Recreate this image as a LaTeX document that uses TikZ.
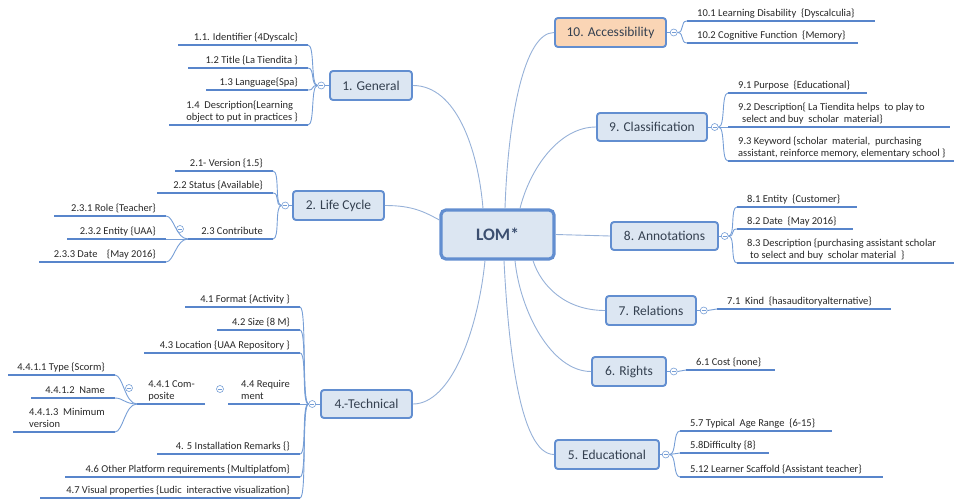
\documentclass[tikz,border=0pt]{standalone}
\usepackage{fontspec}
\setmainfont{Carlito}
\usetikzlibrary{positioning}

\definecolor{boxfill}{RGB}{220,230,242}
\definecolor{boxdraw}{RGB}{98,142,208}
\definecolor{accfill}{RGB}{250,213,181}
\definecolor{boxtext}{RGB}{52,64,80}
\definecolor{lomtext}{RGB}{60,79,112}
\definecolor{trunkcol}{RGB}{150,177,216}
\definecolor{ulinecol}{RGB}{88,133,203}
\definecolor{brkcol}{RGB}{118,158,214}
\definecolor{leaftext}{RGB}{40,40,40}

\begin{document}
\begin{tikzpicture}[x=1pt, y=-1pt,
    main/.style = {draw=boxdraw, fill=boxfill, line width=1.9pt, rounded corners=3pt, text=boxtext, font=\fontsize{13.5}{15}\selectfont, minimum height=29pt, inner sep=0pt},
    hub/.style = {main, line width=3.2pt, rounded corners=5pt, text=lomtext, font=\bfseries\fontsize{17.5}{20}\selectfont},
    knob/.style = {circle, draw=brkcol, fill=white, line width=0.6pt, minimum size=7pt, inner sep=0pt,
        path picture={\draw[brkcol, line width=0.6pt] ([xshift=-2pt]path picture bounding box.center) -- ([xshift=2pt]path picture bounding box.center);}},
    leaf/.style = {font=\fontsize{10.5}{12}\selectfont, text=leaftext, inner xsep=10pt, inner ysep=1pt, execute at end node=\strut},
    lleaf/.style = {leaf, anchor=south east, align=right},
    rleaf/.style = {leaf, anchor=south west, align=left},
    uline/.style = {draw=ulinecol, line width=2.3pt},
    brk/.style = {draw=brkcol, line width=0.9pt},
    trunk/.style = {draw=trunkcol, line width=0.9pt}]
    \useasboundingbox (0,0) rectangle (954,500);

    % centre and main topics
    \node[hub, minimum width=113pt, minimum height=49pt] (lom) at (497.5,234.5) {LOM*};
    \node[main, minimum width=82pt] (gen) at (371,85.5) {1. General};
    \node[main, minimum width=91pt] (life) at (338.5,205.5) {2. Life Cycle};
    \node[main, minimum width=91pt, minimum height=28pt] (tech) at (366.5,404) {4.-Technical};
    \node[main, fill=accfill, minimum width=111pt] (acc) at (610.5,32.5) {10. Accessibility};
    \node[main, minimum width=110pt, minimum height=28pt] (cls) at (652,127) {9. Classification};
    \node[main, minimum width=107pt, minimum height=28pt] (ann) at (664.5,236) {8. Annotations};
    \node[main, minimum width=90pt] (rel) at (651,310.5) {7. Relations};
    \node[main, minimum width=74pt] (rig) at (629,371.5) {6. Rights};
    \node[main, minimum width=104pt] (edu) at (607,454.5) {5. Educational};

    \draw[trunk] (gen.east) .. controls +(43,0) and +(-5,-60) .. ([xshift=-14.5pt]lom.north);
    \draw[trunk] (acc.west) .. controls +(-30,0) and +(3,-90) .. ([xshift=7.5pt]lom.north);
    \draw[trunk] (cls.west) .. controls +(-37,0) and +(10,-40) .. ([xshift=22.5pt]lom.north);
    \draw[trunk] (life.east) .. controls +(28,0) and +(-15,-8) .. ([yshift=14.5pt]lom.west);
    \draw[trunk] (lom.east) -- (ann.west);
    \draw[trunk] (tech.east) .. controls +(38,0) and +(-7,70) .. ([xshift=-12.5pt]lom.south);
    \draw[trunk] (edu.west) .. controls +(-35,0) and +(4,80) .. ([xshift=6.5pt]lom.south);
    \draw[trunk] (rig.west) .. controls +(-40,0) and +(5,50) .. ([xshift=17.5pt]lom.south);
    \draw[trunk] (rel.west) .. controls +(-40,0) and +(8,25) .. ([xshift=35.5pt]lom.south);

    % collapse knobs
    \node[knob, left=4pt of gen] (genk) {};
    \node[knob, left=3pt of life] (lifek) {};
    \node[knob, left=4pt of tech] (techk) {};
    \node[knob, right=3pt of acc] (acck) {};
    \node[knob, right=3pt of cls] (clsk) {};
    \node[knob, right=2pt of ann] (annk) {};
    \node[knob, right=3pt of rel] (relk) {};
    \node[knob, right=3pt of rig] (rigk) {};
    \node[knob, right=2pt of edu] (eduk) {};
    \node[knob] (l3k) at (180,229) {};
    \node[knob] (t4k) at (220,389) {};
    \node[knob] (t41k) at (129,388) {};
    \draw[brk] (gen.west) -- (genk);
    \draw[brk] (life.west) -- (lifek);
    \draw[brk] (tech.west) -- (techk);
    \draw[brk] (acc.east) -- (acck);
    \draw[brk] (cls.east) -- (clsk);
    \draw[brk] (ann.east) -- (annk);
    \draw[brk] (rel.east) -- (relk);
    \draw[brk] (rig.east) -- (rigk);
    \draw[brk] (edu.east) -- (eduk);

    % 1. General
    \node[lleaf] (g1) at (308,45) {1.1. Identifier \{4Dyscalc\}};
    \node[lleaf] (g2) at (308,68) {1.2 Title \{La Tiendita \}};
    \node[lleaf] (g3) at (308,90) {1.3 Language\{Spa\}};
    \node[lleaf, align=left] (g4) at (308,125) {1.4~~Description\{Learning\\object to put in practices \}};
    \draw[uline] (g1.south east) -- +(-130,0);
    \draw[uline] (g2.south east) -- +(-120,0);
    \draw[uline] (g3.south east) -- +(-102,0);
    \draw[uline] (g4.south east) -- +(-139,0);
    \draw[brk] (genk.west) .. controls +(-7,0) and +(7,0) .. (g1.south east);
    \draw[brk] (genk.west) .. controls +(-7,0) and +(7,0) .. (g2.south east);
    \draw[brk] (genk.west) .. controls +(-7,0) and +(7,0) .. (g3.south east);
    \draw[brk] (genk.west) .. controls +(-7,0) and +(7,0) .. (g4.south east);

    % 2. Life Cycle
    \node[lleaf] (l1) at (273,171) {2.1- Version \{1.5\}};
    \node[lleaf] (l2) at (273,193) {2.2 Status \{Available\}};
    \node[lleaf] (l3) at (273,239) {2.3 Contribute};
    \node[lleaf] (l31) at (166,216) {2.3.1 Role \{Teacher\}};
    \node[lleaf] (l32) at (166,239) {2.3.2 Entity \{UAA\}};
    \node[lleaf] (l33) at (166,262) {2.3.3 Date~~~~\{May 2016\}};
    \draw[uline] (l1.south east) -- +(-98,0);
    \draw[uline] (l2.south east) -- +(-116,0);
    \draw[uline] (l3.south east) -- +(-85,0);
    \draw[uline] (l31.south east) -- +(-112,0);
    \draw[uline] (l32.south east) -- +(-99,0);
    \draw[uline] (l33.south east) -- +(-127,0);
    \draw[brk] (lifek.west) .. controls +(-7,0) and +(7,0) .. (l1.south east);
    \draw[brk] (lifek.west) .. controls +(-7,0) and +(7,0) .. (l2.south east);
    \draw[brk] (lifek.west) .. controls +(-7,0) and +(7,0) .. (l3.south east);
    \draw[brk] ([xshift=-85pt]l3.south east) .. controls +(-12,0) and +(8,0) .. (l31.south east);
    \draw[brk] ([xshift=-85pt]l3.south east) -- (l32.south east);
    \draw[brk] ([xshift=-85pt]l3.south east) .. controls +(-12,0) and +(8,0) .. (l33.south east);

    % 4. Technical
    \node[lleaf] (t1) at (300,307) {4.1 Format \{Activity \}};
    \node[lleaf] (t2) at (300,330) {4.2 Size \{8 M\}};
    \node[lleaf] (t3) at (300,353) {4.3 Location \{UAA Repository \}};
    \node[lleaf, align=left] (t4) at (300,404) {4.4 Require\\ment};
    \node[lleaf, align=left] (t41) at (205,404) {4.4.1 Com-\\posite};
    \node[lleaf] (t411) at (115,375) {4.4.1.1 Type \{Scorm\}};
    \node[lleaf] (t412) at (115,398) {4.4.1.2~~Name};
    \node[lleaf, align=left] (t413) at (115,432) {4.4.1.3~~Minimum\\version};
    \node[lleaf] (t5) at (300,454) {4. 5 Installation Remarks \{\}};
    \node[lleaf] (t6) at (300,477) {4.6 Other Platform requirements \{Multiplatfom\}};
    \node[lleaf] (t7) at (300,498) {4.7 Visual properties \{Ludic~~interactive visualization\}};
    \draw[uline] (t1.south east) -- +(-115,0);
    \draw[uline] (t2.south east) -- +(-83,0);
    \draw[uline] (t3.south east) -- +(-156,0);
    \draw[uline] (t4.south east) -- +(-72,0);
    \draw[uline] (t41.south east) -- +(-68,0);
    \draw[uline] (t411.south east) -- +(-107,0);
    \draw[uline] (t412.south east) -- +(-84,0);
    \draw[uline] (t413.south east) -- +(-102,0);
    \draw[uline] (t5.south east) -- +(-143,0);
    \draw[uline] (t6.south east) -- +(-235,0);
    \draw[uline] (t7.south east) -- +(-260,0);
    \draw[brk] (techk.west) .. controls +(-7,0) and +(7,0) .. (t1.south east);
    \draw[brk] (techk.west) .. controls +(-7,0) and +(7,0) .. (t2.south east);
    \draw[brk] (techk.west) .. controls +(-7,0) and +(7,0) .. (t3.south east);
    \draw[brk] (techk.west) -- (t4.south east);
    \draw[brk] (techk.west) .. controls +(-7,0) and +(7,0) .. (t5.south east);
    \draw[brk] (techk.west) .. controls +(-7,0) and +(7,0) .. (t6.south east);
    \draw[brk] (techk.west) .. controls +(-7,0) and +(7,0) .. (t7.south east);
    \draw[brk] ([xshift=-68pt]t41.south east) .. controls +(-12,0) and +(8,0) .. (t411.south east);
    \draw[brk] ([xshift=-68pt]t41.south east) .. controls +(-12,0) and +(8,0) .. (t412.south east);
    \draw[brk] ([xshift=-68pt]t41.south east) .. controls +(-12,0) and +(8,0) .. (t413.south east);

    % 10. Accessibility
    \node[rleaf] (a1) at (687,21) {10.1 Learning Disability~~\{Dyscalculia\}};
    \node[rleaf] (a2) at (687,43) {10.2 Cognitive Function~~\{Memory\}};
    \draw[uline] (a1.south west) -- +(188,0);
    \draw[uline] (a2.south west) -- +(171,0);
    \draw[brk] (acck.east) .. controls +(7,0) and +(-7,0) .. (a1.south west);
    \draw[brk] (acck.east) .. controls +(7,0) and +(-7,0) .. (a2.south west);

    % 9. Classification
    \node[rleaf] (c1) at (728,93) {9.1 Purpose~~\{Educational\}};
    \node[rleaf] (c2) at (728,127) {9.2 Description\{ La Tiendita helps~~to play to\\\hspace{4pt}select and buy~~scholar~~material\}};
    \node[rleaf] (c3) at (728,161) {9.3 Keyword \{scholar~~material,~~purchasing\\assistant, reinforce memory, elementary school \}};
    \draw[uline] (c1.south west) -- +(139,0);
    \draw[uline] (c2.south west) -- +(222,0);
    \draw[uline] (c3.south west) -- +(226,0);
    \draw[brk] (clsk.east) .. controls +(7,0) and +(-7,0) .. (c1.south west);
    \draw[brk] (clsk.east) -- (c2.south west);
    \draw[brk] (clsk.east) .. controls +(7,0) and +(-7,0) .. (c3.south west);

    % 8. Annotations
    \node[rleaf] (n1) at (737,207) {8.1 Entity~~\{Customer\}};
    \node[rleaf] (n2) at (737,229) {8.2 Date~~\{May 2016\}};
    \node[rleaf] (n3) at (737,263) {8.3 Description \{purchasing assistant scholar\\\hspace{3pt}to select and buy~~scholar material~~\}};
    \draw[uline] (n1.south west) -- +(120,0);
    \draw[uline] (n2.south west) -- +(116,0);
    \draw[uline] (n3.south west) -- +(217,0);
    \draw[brk] (annk.east) .. controls +(7,0) and +(-7,0) .. (n1.south west);
    \draw[brk] (annk.east) .. controls +(7,0) and +(-7,0) .. (n2.south west);
    \draw[brk] (annk.east) .. controls +(7,0) and +(-7,0) .. (n3.south west);

    % 7. Relations, 6. Rights
    \node[rleaf] (r1) at (717,309) {7.1~~Kind~~\{hasauditoryalternative\}};
    \node[rleaf] (s1) at (686,370) {6.1 Cost \{none\}};
    \draw[uline] (r1.south west) -- +(174,0);
    \draw[uline] (s1.south west) -- +(89,0);
    \draw[brk] (relk.east) -- (r1.south west);
    \draw[brk] (rigk.east) -- (s1.south west);

    % 5. Educational
    \node[rleaf] (e1) at (680,431) {5.7 Typical~~Age Range~~\{6-15\}};
    \node[rleaf] (e2) at (680,453) {5.8Difficulty \{8\}};
    \node[rleaf] (e3) at (680,477) {5.12 Learner Scaffold \{Assistant teacher\}};
    \draw[uline] (e1.south west) -- +(152,0);
    \draw[uline] (e2.south west) -- +(89,0);
    \draw[uline] (e3.south west) -- +(203,0);
    \draw[brk] (eduk.east) .. controls +(7,0) and +(-7,0) .. (e1.south west);
    \draw[brk] (eduk.east) -- (e2.south west);
    \draw[brk] (eduk.east) .. controls +(7,0) and +(-7,0) .. (e3.south west);

\end{tikzpicture}
\end{document}
